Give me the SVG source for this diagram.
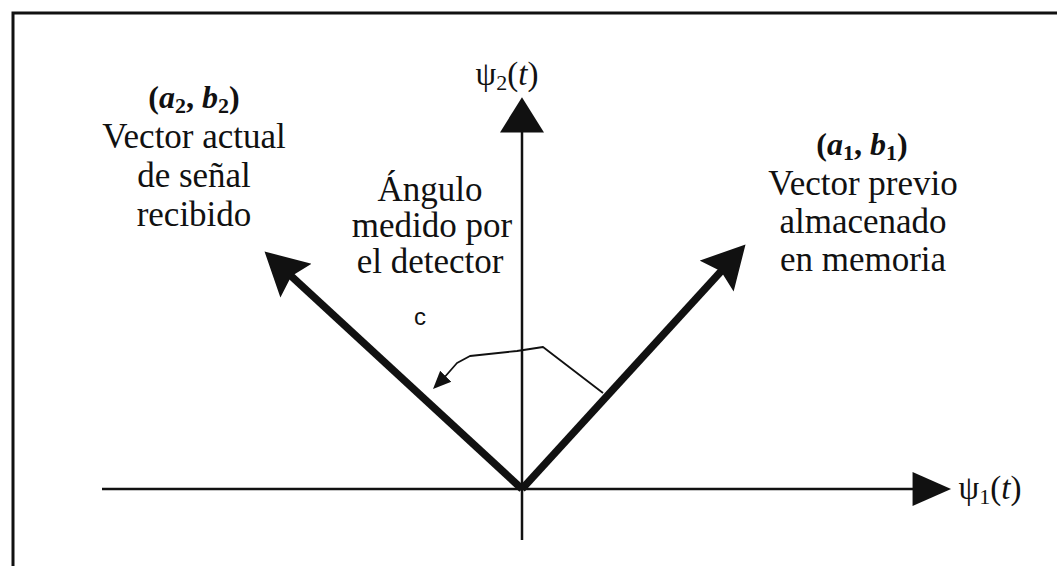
<svg xmlns="http://www.w3.org/2000/svg" width="1057" height="566" viewBox="0 0 1057 566">
<defs>
<style>
.lbl{font-family:"Liberation Serif","Times New Roman",serif;font-size:35px;fill:#111;text-anchor:middle}
.math{font-family:"Liberation Serif","Times New Roman",serif;font-size:32px;font-weight:bold;fill:#111;text-anchor:middle}
.it{font-style:italic}
.axis{stroke:#111;stroke-width:2.5;fill:none}
.vec{stroke:#111;stroke-width:7.5;fill:none}
.arc{stroke:#111;stroke-width:1.8;fill:none;stroke-linejoin:round}
</style>
<marker id="ahV" markerUnits="userSpaceOnUse" markerWidth="40" markerHeight="44" viewBox="0 0 32 40" refX="24" refY="20" orient="auto">
<path d="M0,0 L32,20 L0,40 Z" fill="#111"/>
</marker>
<marker id="ahH" markerUnits="userSpaceOnUse" markerWidth="40" markerHeight="34" viewBox="0 0 34 30" refX="26" refY="15" orient="auto">
<path d="M0,0 L34,15 L0,30 Z" fill="#111"/>
</marker>
<marker id="ahVec" markerUnits="userSpaceOnUse" markerWidth="44" markerHeight="46" viewBox="0 0 40 43" refX="30" refY="21.5" orient="auto">
<path d="M0,0 L40,21.5 L0,43 L6,21.5 Z" fill="#111"/>
</marker>
<marker id="ahS" markerUnits="userSpaceOnUse" markerWidth="18" markerHeight="18" viewBox="0 0 16 14" refX="11" refY="7" orient="auto">
<path d="M0,0 L16,7 L0,14 Z" fill="#111"/>
</marker>
</defs>
<rect width="1057" height="566" fill="#fff"/>
<path d="M13,566 V13 H1057" stroke="#111" stroke-width="3" fill="none"/>
<g id="connectors">
<line class="axis" x1="102" y1="489" x2="942" y2="489" marker-end="url(#ahH)"/>
<line class="axis" x1="522" y1="540" x2="522" y2="106" marker-end="url(#ahV)"/>
<line class="vec" x1="522" y1="489" x2="272.4" y2="258.8" marker-end="url(#ahVec)"/>
<line class="vec" x1="522" y1="489" x2="738.3" y2="252.4" marker-end="url(#ahVec)"/>
<polyline class="arc" points="603,393 543,347 517,351 470,356 457,363 443,379 437,385" marker-end="url(#ahS)"/>
</g>
<g id="psi2">
<text class="math" x="507" y="85" style="font-size:33px;font-weight:normal"><tspan>ψ</tspan><tspan font-size="22" dy="5">2</tspan><tspan dy="-5">(</tspan><tspan class="it">t</tspan><tspan>)</tspan></text>
</g>
<g id="psi1">
<text class="math" x="990" y="499" style="font-size:33px;font-weight:normal"><tspan>ψ</tspan><tspan font-size="22" dy="5">1</tspan><tspan dy="-5">(</tspan><tspan class="it">t</tspan><tspan>)</tspan></text>
</g>
<g id="vector-actual">
<text class="math" x="194" y="108"><tspan>(</tspan><tspan class="it">a</tspan><tspan font-size="22" dy="5">2</tspan><tspan dy="-5">, </tspan><tspan class="it">b</tspan><tspan font-size="22" dy="5">2</tspan><tspan dy="-5">)</tspan></text>
<text class="lbl" x="194" y="148">Vector actual</text>
<text class="lbl" x="194" y="187">de señal</text>
<text class="lbl" x="194" y="226">recibido</text>
</g>
<g id="vector-previo">
<text class="math" x="862" y="155"><tspan>(</tspan><tspan class="it">a</tspan><tspan font-size="22" dy="5">1</tspan><tspan dy="-5">, </tspan><tspan class="it">b</tspan><tspan font-size="22" dy="5">1</tspan><tspan dy="-5">)</tspan></text>
<text class="lbl" x="863" y="195">Vector previo</text>
<text class="lbl" x="863" y="233">almacenado</text>
<text class="lbl" x="863" y="271">en memoria</text>
</g>
<g id="angulo">
<text class="lbl" x="430" y="201">Ángulo</text>
<text class="lbl" x="432" y="237">medido por</text>
<text class="lbl" x="430" y="273">el detector</text>
</g>
<g id="c-label">
<text x="420" y="325" style="font-family:'Liberation Sans',Arial,sans-serif;font-size:24px;fill:#111;text-anchor:middle">c</text>
</g>
</svg>
